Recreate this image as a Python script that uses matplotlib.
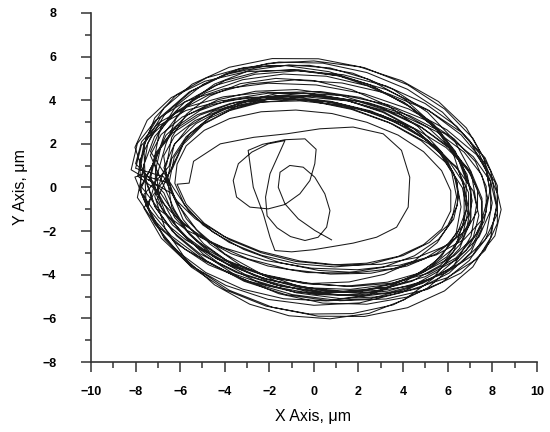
import numpy as np
import matplotlib.pyplot as plt

loops_x = [
    [-7.8, -7.53, -6.73, -5.46, -3.8, -1.87, 0.2, 2.27, 4.2, 5.86, 7.13, 7.93,
     8.2, 7.93, 7.13, 5.86, 4.2, 2.27, 0.2, -1.87, -3.8, -5.46, -6.73, -7.53],
    [-7.63, -7.14, -6.17, -4.81, -3.13, -1.27, 0.67, 2.53, 4.21, 5.57, 6.54, 7.03,
     7.03, 6.54, 5.57, 4.21, 2.53, 0.67, -1.27, -3.13, -4.81, -6.17, -7.14, -7.63],
    [-6.5, -6.27, -5.59, -4.51, -3.1, -1.46, 0.3, 2.06, 3.7, 5.11, 6.19, 6.87,
     7.1, 6.87, 6.19, 5.11, 3.7, 2.06, 0.3, -1.46, -3.1, -4.51, -5.59, -6.27],
    [-7.34, -6.85, -5.91, -4.58, -2.96, -1.14, 0.74, 2.56, 4.18, 5.51, 6.45, 6.94,
     6.94, 6.45, 5.51, 4.18, 2.56, 0.74, -1.14, -2.96, -4.58, -5.91, -6.85, -7.34],
    [-7.4, -7.13, -6.35, -5.11, -3.5, -1.62, 0.4, 2.42, 4.3, 5.91, 7.15, 7.93,
     8.2, 7.93, 7.15, 5.91, 4.3, 2.42, 0.4, -1.62, -3.5, -5.11, -6.35, -7.13],
    [-8.03, -7.48, -6.4, -4.89, -3.04, -0.97, 1.17, 3.24, 5.09, 6.6, 7.68, 8.23,
     8.23, 7.68, 6.6, 5.09, 3.24, 1.17, -0.97, -3.04, -4.89, -6.4, -7.48, -8.03],
    [-7.7, -7.45, -6.7, -5.5, -3.95, -2.14, -0.2, 1.74, 3.55, 5.1, 6.3, 7.05,
     7.3, 7.05, 6.3, 5.1, 3.55, 1.74, -0.2, -2.14, -3.95, -5.5, -6.7, -7.45],
    [-6.64, -6.18, -5.27, -4.0, -2.44, -0.7, 1.1, 2.84, 4.4, 5.67, 6.58, 7.04,
     7.04, 6.58, 5.67, 4.4, 2.84, 1.1, -0.7, -2.44, -4.0, -5.27, -6.18, -6.64],
    [-6.6, -6.38, -5.73, -4.7, -3.35, -1.78, -0.1, 1.58, 3.15, 4.5, 5.53, 6.18,
     6.4, 6.18, 5.53, 4.5, 3.15, 1.58, -0.1, -1.78, -3.35, -4.7, -5.73, -6.38],
    [-6.74, -6.26, -5.33, -4.02, -2.42, -0.63, 1.23, 3.02, 4.62, 5.93, 6.86, 7.34,
     7.34, 6.86, 5.93, 4.62, 3.02, 1.23, -0.63, -2.42, -4.02, -5.33, -6.26, -6.74],
    [-8.0, -7.74, -6.97, -5.74, -4.15, -2.29, -0.3, 1.69, 3.55, 5.14, 6.37, 7.14,
     7.4, 7.14, 6.37, 5.14, 3.55, 1.69, -0.3, -2.29, -4.15, -5.74, -6.97, -7.74],
    [-7.83, -7.28, -6.22, -4.73, -2.9, -0.86, 1.26, 3.3, 5.13, 6.62, 7.68, 8.23,
     8.23, 7.68, 6.62, 5.13, 3.3, 1.26, -0.86, -2.9, -4.73, -6.22, -7.28, -7.83],
    [-7.2, -6.94, -6.18, -4.97, -3.4, -1.57, 0.4, 2.37, 4.2, 5.77, 6.98, 7.74,
     8.0, 7.74, 6.98, 5.77, 4.2, 2.37, 0.4, -1.57, -3.4, -4.97, -6.18, -6.94],
    [-7.14, -6.67, -5.75, -4.46, -2.88, -1.12, 0.72, 2.48, 4.06, 5.35, 6.27, 6.74,
     6.74, 6.27, 5.35, 4.06, 2.48, 0.72, -1.12, -2.88, -4.46, -5.75, -6.67, -7.14],
    [-6.6, -6.38, -5.72, -4.67, -3.3, -1.71, 0.0, 1.71, 3.3, 4.67, 5.72, 6.38,
     6.6, 6.38, 5.72, 4.67, 3.3, 1.71, 0.0, -1.71, -3.3, -4.67, -5.72, -6.38],
    [-6.73, -6.25, -5.29, -3.95, -2.3, -0.46, 1.46, 3.3, 4.95, 6.29, 7.25, 7.73,
     7.73, 7.25, 6.29, 4.95, 3.3, 1.46, -0.46, -2.3, -3.95, -5.29, -6.25, -6.73],
    [-8.0, -7.73, -6.94, -5.69, -4.05, -2.15, -0.1, 1.95, 3.85, 5.49, 6.74, 7.53,
     7.8, 7.53, 6.74, 5.49, 3.85, 1.95, -0.1, -2.15, -4.05, -5.69, -6.94, -7.73],
    [-7.13, -6.64, -5.67, -4.31, -2.63, -0.77, 1.17, 3.03, 4.71, 6.07, 7.04, 7.53,
     7.53, 7.04, 6.07, 4.71, 3.03, 1.17, -0.77, -2.63, -4.31, -5.67, -6.64, -7.13],
    [-7.1, -6.87, -6.19, -5.11, -3.7, -2.06, -0.3, 1.46, 3.1, 4.51, 5.59, 6.27,
     6.5, 6.27, 5.59, 4.51, 3.1, 1.46, -0.3, -2.06, -3.7, -5.11, -6.19, -6.87],
    [-7.9, -7.63, -6.84, -5.59, -3.95, -2.05, 0.0, 2.05, 3.95, 5.59, 6.84, 7.63,
     7.9, 7.63, 6.84, 5.59, 3.95, 2.05, 0.0, -2.05, -3.95, -5.59, -6.84, -7.63],
    [-6.34, -5.87, -4.95, -3.66, -2.08, -0.32, 1.52, 3.28, 4.86, 6.15, 7.07, 7.54,
     7.54, 7.07, 6.15, 4.86, 3.28, 1.52, -0.32, -2.08, -3.66, -4.95, -5.87, -6.34],
    [-8.2, -7.92, -7.09, -5.77, -4.05, -2.05, 0.1, 2.25, 4.25, 5.97, 7.29, 8.12,
     8.4, 8.12, 7.29, 5.97, 4.25, 2.25, 0.1, -2.05, -4.05, -5.77, -7.09, -7.92],
    [-7.63, -7.15, -6.19, -4.85, -3.2, -1.36, 0.56, 2.4, 4.05, 5.39, 6.35, 6.83,
     6.83, 6.35, 5.39, 4.05, 2.4, 0.56, -1.36, -3.2, -4.85, -6.19, -7.15, -7.63],
    [-6.5, -6.27, -5.6, -4.54, -3.15, -1.54, 0.2, 1.94, 3.55, 4.94, 6.0, 6.67,
     6.9, 6.67, 6.0, 4.94, 3.55, 1.94, 0.2, -1.54, -3.15, -4.54, -5.6, -6.27],
    [-7.33, -6.81, -5.81, -4.39, -2.65, -0.71, 1.31, 3.25, 4.99, 6.41, 7.41, 7.93,
     7.93, 7.41, 6.41, 4.99, 3.25, 1.31, -0.71, -2.65, -4.39, -5.81, -6.81, -7.33],
    [-7.3, -7.06, -6.35, -5.22, -3.75, -2.04, -0.2, 1.64, 3.35, 4.82, 5.95, 6.66,
     6.9, 6.66, 5.95, 4.82, 3.35, 1.64, -0.2, -2.04, -3.75, -5.22, -6.35, -7.06],
    [-6.24, -5.81, -4.98, -3.8, -2.35, -0.74, 0.94, 2.55, 4.0, 5.18, 6.01, 6.44,
     6.44, 6.01, 5.18, 4.0, 2.55, 0.94, -0.74, -2.35, -3.8, -4.98, -5.81, -6.24],
    [-6.14, -5.73, -4.92, -3.78, -2.37, -0.81, 0.81, 2.37, 3.78, 4.92, 5.73, 6.14,
     6.14, 5.73, 4.92, 3.78, 2.37, 0.81, -0.81, -2.37, -3.78, -4.92, -5.73, -6.14],
]
loops_y = [
    [0.8, 2.3, 3.64, 4.74, 5.51, 5.91, 5.9, 5.49, 4.71, 3.6, 2.26, 0.76,
     -0.8, -2.3, -3.64, -4.74, -5.51, -5.91, -5.9, -5.49, -4.71, -3.6, -2.26, -0.76],
    [1.92, 3.19, 4.25, 5.03, 5.5, 5.59, 5.31, 4.7, 3.77, 2.61, 1.27, -0.14,
     -1.52, -2.79, -3.85, -4.63, -5.1, -5.19, -4.91, -4.3, -3.37, -2.21, -0.87, 0.54],
    [0.21, 1.38, 2.45, 3.34, 3.98, 4.35, 4.4, 4.13, 3.58, 2.76, 1.75, 0.6,
     -0.61, -1.78, -2.85, -3.74, -4.38, -4.75, -4.8, -4.53, -3.98, -3.16, -2.15, -1.0],
    [1.48, 2.43, 3.23, 3.8, 4.13, 4.17, 3.95, 3.47, 2.74, 1.85, 0.83, -0.24,
     -1.28, -2.23, -3.03, -3.6, -3.93, -3.97, -3.75, -3.27, -2.54, -1.65, -0.63, 0.44],
    [0.32, 1.47, 2.49, 3.32, 3.91, 4.21, 4.2, 3.89, 3.29, 2.44, 1.41, 0.27,
     -0.92, -2.07, -3.09, -3.92, -4.51, -4.81, -4.8, -4.49, -3.89, -3.04, -2.01, -0.87],
    [1.84, 3.08, 4.12, 4.87, 5.31, 5.39, 5.11, 4.49, 3.57, 2.42, 1.1, -0.28,
     -1.64, -2.88, -3.92, -4.67, -5.11, -5.19, -4.91, -4.29, -3.37, -2.22, -0.9, 0.48],
    [0.58, 2.03, 3.34, 4.41, 5.18, 5.58, 5.6, 5.24, 4.5, 3.45, 2.16, 0.73,
     -0.78, -2.23, -3.54, -4.61, -5.38, -5.78, -5.8, -5.44, -4.7, -3.65, -2.36, -0.93],
    [1.99, 3.18, 4.17, 4.9, 5.32, 5.4, 5.12, 4.52, 3.64, 2.53, 1.26, -0.07,
     -1.39, -2.58, -3.57, -4.3, -4.72, -4.8, -4.52, -3.92, -3.04, -1.93, -0.66, 0.67],
    [0.23, 1.32, 2.33, 3.17, 3.78, 4.13, 4.2, 3.97, 3.46, 2.71, 1.77, 0.7,
     -0.43, -1.52, -2.53, -3.37, -3.98, -4.33, -4.4, -4.17, -3.66, -2.91, -1.97, -0.9],
    [1.45, 2.34, 3.07, 3.61, 3.92, 3.97, 3.77, 3.32, 2.65, 1.83, 0.9, -0.09,
     -1.05, -1.94, -2.67, -3.21, -3.52, -3.57, -3.37, -2.92, -2.25, -1.43, -0.5, 0.49],
    [0.88, 1.93, 2.83, 3.53, 3.98, 4.14, 4.0, 3.58, 2.9, 2.01, 0.97, -0.15,
     -1.28, -2.33, -3.23, -3.93, -4.38, -4.54, -4.4, -3.98, -3.3, -2.41, -1.37, -0.25],
    [1.2, 2.4, 3.43, 4.24, 4.75, 4.93, 4.79, 4.31, 3.54, 2.53, 1.36, 0.08,
     -1.2, -2.4, -3.43, -4.24, -4.75, -4.93, -4.79, -4.31, -3.54, -2.53, -1.36, -0.08],
    [1.11, 2.5, 3.74, 4.73, 5.42, 5.75, 5.7, 5.27, 4.5, 3.45, 2.16, 0.74,
     -0.71, -2.1, -3.34, -4.33, -5.02, -5.35, -5.3, -4.87, -4.1, -3.05, -1.76, -0.34],
    [1.12, 2.54, 3.77, 4.74, 5.37, 5.62, 5.48, 4.95, 4.06, 2.89, 1.5, 0.0,
     -1.52, -2.94, -4.17, -5.14, -5.77, -6.02, -5.88, -5.35, -4.46, -3.29, -1.9, -0.4],
    [1.09, 2.3, 3.36, 4.19, 4.76, 5.0, 4.9, 4.48, 3.76, 2.79, 1.64, 0.38,
     -0.89, -2.1, -3.16, -3.99, -4.56, -4.8, -4.7, -4.28, -3.56, -2.59, -1.44, -0.18],
    [0.91, 2.0, 2.93, 3.66, 4.14, 4.32, 4.2, 3.8, 3.12, 2.23, 1.18, 0.05,
     -1.11, -2.2, -3.13, -3.86, -4.34, -4.52, -4.4, -4.0, -3.32, -2.43, -1.38, -0.25],
    [1.09, 2.1, 2.98, 3.69, 4.16, 4.37, 4.3, 3.95, 3.36, 2.57, 1.62, 0.58,
     -0.49, -1.5, -2.38, -3.09, -3.56, -3.77, -3.7, -3.35, -2.76, -1.97, -1.02, 0.02],
    [1.27, 2.39, 3.32, 4.02, 4.41, 4.49, 4.23, 3.67, 2.84, 1.8, 0.61, -0.63,
     -1.87, -2.99, -3.92, -4.62, -5.01, -5.09, -4.83, -4.27, -3.44, -2.4, -1.21, 0.03],
    [0.81, 1.85, 2.78, 3.53, 4.06, 4.32, 4.3, 4.0, 3.44, 2.67, 1.72, 0.67,
     -0.41, -1.45, -2.38, -3.13, -3.66, -3.92, -3.9, -3.6, -3.04, -2.27, -1.32, -0.27],
    [0.52, 1.96, 3.27, 4.38, 5.21, 5.69, 5.8, 5.53, 4.89, 3.94, 2.73, 1.34,
     -0.12, -1.56, -2.87, -3.98, -4.81, -5.29, -5.4, -5.13, -4.49, -3.54, -2.33, -0.94],
    [0.88, 1.97, 2.9, 3.6, 4.03, 4.15, 3.97, 3.49, 2.74, 1.78, 0.67, -0.5,
     -1.68, -2.77, -3.7, -4.4, -4.83, -4.95, -4.77, -4.29, -3.54, -2.58, -1.47, -0.3],
    [0.81, 2.02, 3.09, 3.94, 4.52, 4.78, 4.7, 4.3, 3.6, 2.64, 1.51, 0.26,
     -1.01, -2.22, -3.29, -4.14, -4.72, -4.98, -4.9, -4.5, -3.8, -2.84, -1.71, -0.46],
    [1.04, 2.33, 3.46, 4.34, 4.94, 5.2, 5.1, 4.66, 3.9, 2.88, 1.65, 0.32,
     -1.04, -2.33, -3.46, -4.34, -4.94, -5.2, -5.1, -4.66, -3.9, -2.88, -1.65, -0.32],
    [0.97, 1.95, 2.8, 3.48, 3.92, 4.1, 4.0, 3.64, 3.04, 2.24, 1.3, 0.27,
     -0.77, -1.75, -2.6, -3.28, -3.72, -3.9, -3.8, -3.44, -2.84, -2.04, -1.1, -0.07],
    [1.65, 2.86, 3.9, 4.69, 5.19, 5.35, 5.17, 4.65, 3.85, 2.8, 1.58, 0.27,
     -1.05, -2.26, -3.3, -4.09, -4.59, -4.75, -4.57, -4.05, -3.25, -2.2, -0.98, 0.35],
    [0.55, 1.63, 2.59, 3.34, 3.85, 4.07, 4.0, 3.63, 2.99, 2.14, 1.11, -0.01,
     -1.15, -2.23, -3.19, -3.94, -4.45, -4.67, -4.6, -4.23, -3.59, -2.74, -1.71, -0.59],
    [1.21, 2.13, 2.92, 3.52, 3.91, 4.04, 3.9, 3.51, 2.9, 2.1, 1.19, 0.19,
     -0.81, -1.73, -2.52, -3.12, -3.51, -3.64, -3.5, -3.11, -2.52, -1.72, -0.79, 0.19],
    [1.07, 1.91, 2.62, 3.16, 3.47, 3.55, 3.39, 2.99, 2.4, 1.64, 0.77, -0.15,
     -1.07, -1.91, -2.62, -3.16, -3.47, -3.55, -3.39, -2.99, -2.4, -1.64, -0.77, 0.15],
]

# last orbit inside the hole, then the small loops near the centre, ending at the free end
inner_x = [-5.6, -5.4, -4.2, -2.7, -1.22, 0.27, 1.76, 3.11, 3.93, 4.30, 4.23, 3.71, 2.81, 1.76,
           0.0, -1.0, -1.75, -1.97, -2.27, -2.72, -2.95, -2.3, -1.30, -0.40, 0.10, 0.04, -0.18,
           -0.63, -1.30, -2.05, -2.87, -3.47, -3.62, -3.39, -2.79, -2.05, -1.30, -1.60, -1.97,
           -2.17, -2.10, -1.65, -1.05, -0.40, 0.19, 0.57, 0.72, 0.49, 0.04, -0.48, -1.08, -1.52,
           -1.60, -1.30, -0.70, 0.04, 0.79]
inner_y = [0.2, 1.2, 2.0, 2.3, 2.46, 2.69, 2.77, 2.46, 1.70, 0.47, -0.90, -1.82, -2.28, -2.55,
           -2.85, -2.95, -2.89, -2.28, -1.21, 0.01, 1.70, 1.98, 2.19, 2.23, 1.75, 1.09, 0.32,
           -0.29, -0.78, -0.98, -0.90, -0.44, 0.32, 1.09, 1.62, 2.00, 2.15, 1.47, 0.63,
           -0.44, -1.30, -1.85, -2.25, -2.43, -2.28, -1.82, -1.06, -0.29, 0.47, 0.93, 1.01, 0.70,
           0.01, -0.75, -1.44, -1.97, -2.40]

x = np.concatenate([np.concatenate(loops_x), inner_x])
y = np.concatenate([np.concatenate(loops_y), inner_y])

plt.rcParams['font.family'] = 'Liberation Sans'

fig = plt.figure(figsize=(5.5, 4.32), dpi=100)
ax = fig.add_axes([0.1655, 0.162, 0.8105, 0.808])
ax.plot(x, y, color='#1a1a1a', lw=0.75)

ax.set_xlim(-10, 10)
ax.set_ylim(-8, 8)
ax.set_xticks(np.arange(-10, 11, 2))
ax.set_yticks(np.arange(-8, 9, 2))
ax.set_xticks(np.arange(-9, 10, 2), minor=True)
ax.set_yticks(np.arange(-7, 8, 2), minor=True)
for s in ['top', 'right']:
    ax.spines[s].set_visible(False)
for s in ['left', 'bottom']:
    ax.spines[s].set_linewidth(1.2)
    ax.spines[s].set_color('#333333')
ax.tick_params(which='major', direction='out', length=7, width=1.1, color='#333333')
ax.tick_params(which='minor', direction='out', length=4, width=1.1, color='#333333')
ax.tick_params(axis='y', which='major', pad=18)
ax.tick_params(axis='x', which='major', pad=10)
for lab in ax.get_xticklabels() + ax.get_yticklabels():
    lab.set_fontweight('bold')
    lab.set_fontsize(9)

ax.set_xlabel('X Axis, \u03bcm', fontsize=11.5)
ax.set_ylabel('Y Axis, \u03bcm', fontsize=11.5)
ax.xaxis.set_label_coords(0.498, -0.135)
ax.yaxis.set_label_coords(-0.141, 0.5)

fig.savefig('out.png', dpi=100)
